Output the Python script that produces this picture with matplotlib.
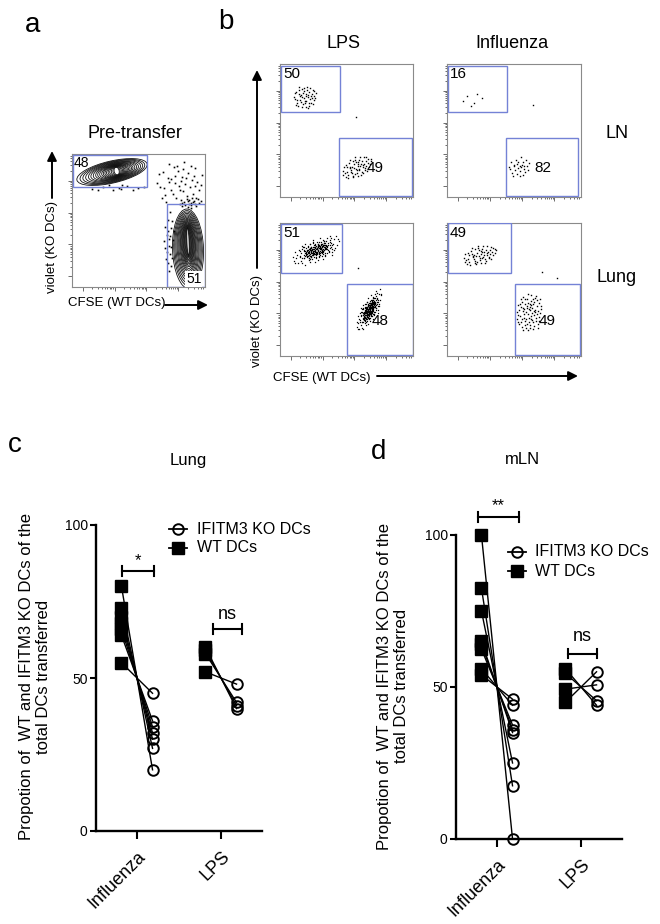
import matplotlib
matplotlib.use('Agg')
import matplotlib.pyplot as plt
import numpy as np
from matplotlib.patches import Rectangle, Ellipse

plt.rcParams['font.family'] = ['Liberation Sans', 'DejaVu Sans']

# ---------------- data ----------------
categories = ['Influenza', 'LPS']
lung_flu_wt = [80, 73, 70, 68, 66, 64, 55]
lung_flu_ko = [20, 27, 30, 32, 34, 36, 45]
lung_lps_wt = [60, 59, 58, 52]
lung_lps_ko = [40, 41, 42, 48]
mln_flu_wt = [100, 82.5, 75, 65, 64, 62.5, 56, 54]
mln_flu_ko = [0, 17.5, 25, 35, 36, 37.5, 44, 46]
mln_lps_wt = [56, 54.5, 49.3, 45]
mln_lps_ko = [44, 45.5, 50.7, 55]
sig_lung = ['*', 'ns']
sig_mln = ['**', 'ns']
y_ticks = [0, 50, 100]
legend_labels = ['IFITM3 KO DCs', 'WT DCs']

pre_transfer_pct = [48, 51]
ln_lps_pct = [50, 49]
ln_flu_pct = [16, 82]
lung_lps_pct = [51, 48]
lung_flu_pct = [49, 49]

# hand-typed event offsets used for the flow-cytometry dot clouds
T = [(0.12, -0.35), (-0.48, 0.22), (0.71, 0.05), (-0.15, -0.62), (0.33, 0.41), (-0.82, -0.18),
     (0.05, 0.08), (0.54, -0.47), (-0.27, 0.66), (0.91, 0.33), (-0.63, -0.51), (0.18, 0.87),
     (-0.05, -0.12), (0.42, -0.15), (-0.38, -0.29), (0.26, 0.19), (-0.71, 0.44), (0.63, 0.62),
     (-0.19, 0.31), (0.08, -0.84), (-0.95, 0.02), (0.37, -0.72), (-0.44, 0.05), (0.79, -0.28),
     (-0.08, 0.49), (0.22, -0.04), (-0.57, -0.78), (0.48, 0.12), (-0.31, -0.45), (0.14, 0.58),
     (0.67, -0.61), (-0.86, 0.37), (0.02, -0.31), (-0.22, -0.02), (0.58, 0.29), (-0.47, 0.81),
     (0.31, -0.54), (-0.68, -0.21), (0.87, -0.07), (-0.12, 0.71), (0.44, 0.72), (-0.36, 0.15),
     (0.09, 0.27), (-0.76, -0.64), (0.61, -0.12), (-0.02, -0.53), (0.28, -0.88), (-0.53, 0.55),
     (0.74, 0.46), (-0.24, -0.82), (0.16, -0.21), (-0.91, -0.36), (0.39, 0.04), (-0.11, 0.94),
     (0.52, -0.33), (-0.42, -0.08), (0.95, 0.18), (-0.65, 0.27), (0.07, 0.42), (-0.29, -0.66),
     (0.35, 0.55), (-0.78, 0.09), (0.24, -0.43), (-0.16, 0.19), (0.66, -0.82), (-0.51, -0.37),
     (0.83, 0.71), (-0.04, -0.96), (0.47, -0.02), (-0.34, 0.43), (0.11, -0.66), (-0.59, 0.69),
     (0.19, 0.35), (-0.87, -0.52), (0.57, 0.85), (-0.21, -0.38), (0.03, 0.15), (0.76, -0.45),
     (-0.45, -0.95), (0.29, 0.66)]

# ---------------- figure ----------------
W, H = 660, 924
fig = plt.figure(figsize=(6.6, 9.24), dpi=100)
GATE = '#7482d6'
FRAME = '#8a8a8a'


def px_axes(l, t, r, b):
    return fig.add_axes([l / W, 1 - b / H, (r - l) / W, (b - t) / H])


def flow_axes(l, t, r, b):
    ax = px_axes(l, t, r, b)
    w, h = r - l, b - t
    ax.set_xlim(0, w)
    ax.set_ylim(0, h)
    for s in ax.spines.values():
        s.set_color(FRAME)
        s.set_linewidth(0.8)

    def ticks(L):
        major, minor = [], []
        for d in range(4):
            s0 = 0.08 * L + d * 0.24 * L
            major.append(s0)
            for k in range(2, 10):
                v = s0 + np.log10(k) * 0.24 * L
                if v < L:
                    minor.append(v)
        return major, minor
    mx, mnx = ticks(w)
    my, mny = ticks(h)
    ax.set_xticks(mx)
    ax.set_xticks(mnx, minor=True)
    ax.set_yticks(my)
    ax.set_yticks(mny, minor=True)
    ax.tick_params(which='both', direction='out', color='#555555', width=0.6,
                   labelbottom=False, labelleft=False, top=False, right=False)
    ax.tick_params(which='major', length=3)
    ax.tick_params(which='minor', length=1.6)
    return ax


def gate(ax, x0, y0, x1, y1):
    ax.add_patch(Rectangle((x0, y0), x1 - x0, y1 - y0, fill=False, ec=GATE, lw=1.0, zorder=3))


def cluster(ax, cx, cy, sx, sy, n, shear=0.0, layers=(1.0,), ms=1.0):
    xs, ys = [], []
    for li, s in enumerate(layers):
        for (dx, dy) in T[:n]:
            if li % 2 == 1:
                dx, dy = -dy, dx
            xs.append(cx + s * sx * dx)
            ys.append(cy + s * sy * dy + shear * s * sx * dx)
    ax.plot(xs, ys, ls='none', marker='s', ms=ms, mew=0, color='k', zorder=2)


def contour_blob(ax, cx, cy, length, thick, angle, shift=(0, 0)):
    scales = [1.0, 0.92, 0.85, 0.78, 0.71, 0.65, 0.59, 0.53, 0.48, 0.43, 0.38, 0.34,
              0.30, 0.26, 0.22, 0.18, 0.14, 0.10, 0.07]
    for s in scales:
        ax.add_patch(Ellipse((cx + (1 - s) * shift[0], cy + (1 - s) * shift[1]),
                             length * s, thick * (0.3 + 0.7 * s), angle=angle,
                             fill=False, ec='#111111', lw=0.6, zorder=2))


# ---------------- panel a ----------------
axa = flow_axes(72, 154, 205, 287)
contour_blob(axa, 40, 115, 72, 22, 13, shift=(5, 1))
contour_blob(axa, 116, 38, 31, 80, 2, shift=(0, 8))
cluster(axa, 108, 104, 24, 24, 45, ms=1.2)
cluster(axa, 97, 45, 5, 34, 22, ms=1.2)
cluster(axa, 118, 84, 12, 6, 20, ms=1.2)
cluster(axa, 45, 99, 30, 4, 12, ms=1.2)
gate(axa, 0.5, 100, 75, 132.5)
gate(axa, 95, 0.5, 132.5, 83)
axa.text(2, 131, str(pre_transfer_pct[0]), ha='left', va='top', fontsize=10, zorder=5)
axa.text(114, 8, str(pre_transfer_pct[1]), ha='left', va='center', fontsize=10, zorder=5,
         bbox=dict(fc='white', ec='none', pad=0.5))

# ---------------- panel b ----------------
ax_tl = flow_axes(280, 64, 413, 197)
gate(ax_tl, 0.5, 85, 60, 131)
gate(ax_tl, 59, 1, 132, 59)
cluster(ax_tl, 25, 100, 12, 12, 50)
cluster(ax_tl, 77, 30, 15, 11, 60, shear=0.3)
cluster(ax_tl, 76, 80, 1, 1, 1)
ax_tl.text(3, 130, str(ln_lps_pct[0]), ha='left', va='top', fontsize=11)
ax_tl.text(87, 29, str(ln_lps_pct[1]), ha='left', va='center', fontsize=11)

ax_tr = flow_axes(447, 64, 581, 197)
gate(ax_tr, 0.5, 85, 60, 131)
gate(ax_tr, 59, 1, 131, 59)
cluster(ax_tr, 26, 98, 12, 12, 6)
cluster(ax_tr, 86, 92, 1, 1, 1)
cluster(ax_tr, 72, 30, 11, 11, 28)
ax_tr.text(3, 130, str(ln_flu_pct[0]), ha='left', va='top', fontsize=11)
ax_tr.text(87, 29, str(ln_flu_pct[1]), ha='left', va='center', fontsize=11)

ax_bl = flow_axes(280, 223, 413, 356)
gate(ax_bl, 0.5, 83, 62, 132.5)
gate(ax_bl, 67, 1.5, 132.5, 72)
cluster(ax_bl, 36, 106, 24, 12, 80, shear=0.3, layers=(1.0, 0.7, 0.45), ms=0.9)
cluster(ax_bl, 89, 46, 13, 14, 80, shear=1.0, layers=(1.0, 0.7, 0.45), ms=0.9)
cluster(ax_bl, 78, 88, 1, 1, 1)
ax_bl.text(3, 130, str(lung_lps_pct[0]), ha='left', va='top', fontsize=11)
ax_bl.text(92, 35, str(lung_lps_pct[1]), ha='left', va='center', fontsize=11)

ax_br = flow_axes(447, 223, 581, 356)
gate(ax_br, 0.5, 83, 64, 133)
gate(ax_br, 68, 1.5, 133, 72)
cluster(ax_br, 33, 101, 17, 10, 60, shear=0.2)
cluster(ax_br, 95, 84, 1, 1, 1)
cluster(ax_br, 110, 78, 1, 1, 1)
cluster(ax_br, 82, 44, 13, 19, 80)
ax_br.text(3, 130, str(lung_flu_pct[0]), ha='left', va='top', fontsize=11)
ax_br.text(92, 35, str(lung_flu_pct[1]), ha='left', va='center', fontsize=11)


# ---------------- panels c, d ----------------
OFF = 0.185


def paired(ax, xi, wt, ko):
    for w, k in zip(wt, ko):
        ax.plot([xi - OFF, xi + OFF], [w, k], color='k', lw=1.0, zorder=2, clip_on=False)
    ax.plot([xi - OFF] * len(wt), wt, ls='none', marker='s', ms=8.2, color='k',
            zorder=3, clip_on=False)
    ax.plot([xi + OFF] * len(ko), ko, ls='none', marker='o', ms=7.6, mfc='none',
            mec='k', mew=1.4, zorder=4, clip_on=False)


def bracket(ax, x0, x1, y, label, ty):
    ax.plot([x0, x1], [y, y], color='k', lw=1.5, clip_on=False)
    for x in (x0, x1):
        ax.plot([x, x], [y - 1.6, y + 1.6], color='k', lw=1.5, clip_on=False)
    ax.text((x0 + x1) / 2, ty, label, ha='center', va='center',
            fontsize=13 if label == 'ns' else 12)


def style_dot(ax):
    ax.set_xlim(-0.488, 1.488)
    ax.set_ylim(0, 100)
    for side in ('top', 'right'):
        ax.spines[side].set_visible(False)
    for side in ('left', 'bottom'):
        ax.spines[side].set_linewidth(1.7)
    ax.set_yticks(y_ticks)
    ax.set_yticklabels([str(v) for v in y_ticks], fontsize=10)
    ax.set_xticks([0, 1])
    ax.set_xticklabels(categories, fontsize=13, rotation=45, ha='right', rotation_mode='anchor')
    ax.tick_params(axis='y', length=4, width=1.5, pad=2)
    ax.tick_params(axis='x', length=6, width=1.5, pad=6)
    ax.patch.set_alpha(0)


axc = px_axes(96, 525, 262, 831)
style_dot(axc)
paired(axc, 0, lung_flu_wt, lung_flu_ko)
paired(axc, 1, lung_lps_wt, lung_lps_ko)
bracket(axc, -0.18, 0.2, 85, sig_lung[0], 88.5)
bracket(axc, 0.9, 1.25, 66, sig_lung[1], 70.8)

axd = px_axes(456, 535, 622, 839)
style_dot(axd)
paired(axd, 0, mln_flu_wt, mln_flu_ko)
paired(axd, 1, mln_lps_wt, mln_lps_ko)
bracket(axd, -0.23, 0.26, 106, sig_mln[0], 109.5)
bracket(axd, 0.85, 1.19, 61, sig_mln[1], 66.5)

# ---------------- overlay (texts, arrows, legends) ----------------
ov = fig.add_axes([0, 0, 1, 1])
ov.set_xlim(0, W)
ov.set_ylim(H, 0)
ov.axis('off')
ov.patch.set_alpha(0)
ov.set_zorder(10)

for s, x, y, va in [('a', 33, 25, 'center'), ('b', 226, 22, 'center'),
                    ('c', 15, 452, 'baseline'), ('d', 379, 459, 'baseline')]:
    ov.text(x, y, s, fontsize=20, ha='center', va=va)

ov.text(135, 133, 'Pre-transfer', fontsize=13, ha='center', va='center')
ov.text(343, 44, 'LPS', fontsize=13, ha='center', va='center')
ov.text(512, 44, 'Influenza', fontsize=13, ha='center', va='center')
ov.text(617, 133, 'LN', fontsize=13, ha='center', va='center')
ov.text(617, 278, 'Lung', fontsize=13, ha='center', va='center')
ov.text(188, 460, 'Lung', fontsize=12, ha='center', va='center')
ov.text(522, 460, 'mLN', fontsize=12, ha='center', va='center')

arrow = dict(arrowstyle='-|>', color='k', lw=1.4, mutation_scale=14, shrinkA=0, shrinkB=0)
# panel a axis labels
ov.text(52, 247, 'violet (KO DCs)', fontsize=9.5, rotation=90, ha='center', va='center')
ov.annotate('', xy=(52, 151), xytext=(52, 198), arrowprops=arrow)
ov.text(68, 303, 'CFSE (WT DCs)', fontsize=9.5, ha='left', va='center')
ov.annotate('', xy=(208, 305), xytext=(165, 305), arrowprops=arrow)
# panel b axis labels
ov.text(257, 321, 'violet (KO DCs)', fontsize=9.5, rotation=90, ha='center', va='center')
ov.annotate('', xy=(257, 70), xytext=(257, 268), arrowprops=arrow)
ov.text(273, 378, 'CFSE (WT DCs)', fontsize=9.5, ha='left', va='center')
ov.annotate('', xy=(578, 376), xytext=(377, 376), arrowprops=arrow)

# y labels of c, d
ylab = 'Propotion of  WT and IFITM3 KO DCs of the\ntotal DCs transferred'
ov.text(35, 677, ylab, fontsize=12, rotation=90, ha='center', va='center',
        multialignment='center', linespacing=1.2)
ov.text(393, 686, ylab, fontsize=12, rotation=90, ha='center', va='center',
        multialignment='center', linespacing=1.2)


def legend(xm, y1, y2, xt):
    ov.plot([xm - 9, xm + 9], [y1, y1], color='k', lw=1.3)
    ov.plot([xm], [y1], marker='o', ms=7.6, mfc='none', mec='k', mew=1.4)
    ov.plot([xm - 9, xm + 9], [y2, y2], color='k', lw=1.3)
    ov.plot([xm], [y2], marker='s', ms=8.2, color='k')
    ov.text(xt, y1, legend_labels[0], fontsize=11.5, ha='left', va='center')
    ov.text(xt, y2, legend_labels[1], fontsize=11.5, ha='left', va='center')


legend(178, 529, 548, 197)
legend(517, 552, 571, 535)

fig.savefig('out.png', dpi=100)
